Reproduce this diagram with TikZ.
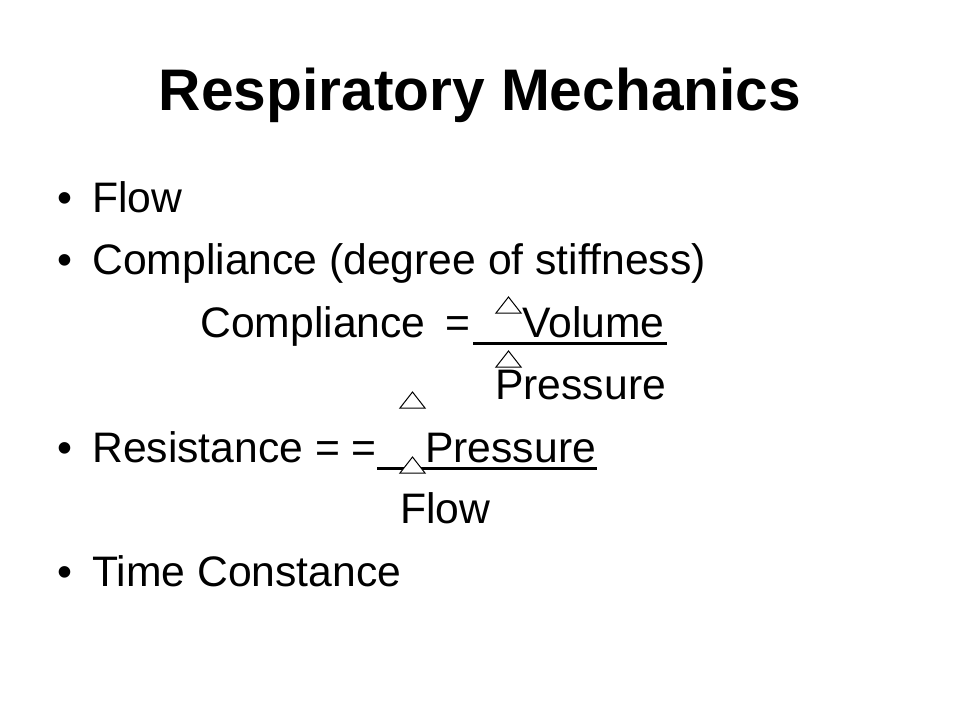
\documentclass[tikz,border=0pt]{standalone}
\usepackage{fontspec}
\setmainfont{Liberation Sans}
\usetikzlibrary{positioning}
\tikzset{
    slidetitle/.style = {anchor=base, inner sep=0pt, font=\fontsize{44}{52}\selectfont\bfseries},
    item/.style = {anchor=base west, inner sep=0pt, font=\fontsize{32}{38}\selectfont},
    delta/.style = {draw=black, fill=white, line width=0.75pt, line join=miter},
    fracline/.style = {line width=2.25pt}
}

\begin{document}
\begin{tikzpicture}[x=0.75pt, y=-0.75pt]
  \useasboundingbox (0,0) rectangle (960,720);
  \fill[white] (0,0) rectangle (960,720);

  \node[slidetitle] (title) at (480,111) {Respiratory Mechanics};

  % bullets
  \node[item] (b1) at (57,213) {•};
  \node[item] (b2) at (57,275) {•};
  \node[item] (b3) at (57,462) {•};
  \node[item] (b4) at (57,586) {•};

  \node[item] (flow) at (92,213) {Flow};
  \node[item] (compl) at (92,275) {Compliance (degree of stiffness)};

  % compliance = dV / dP
  \node[item] (cname) at (200,337) {Compliance};
  \node[item] (ceq) at (445,337) {=};
  \node[item] (vol) at (522,337) {Volume};
  \draw[fracline] (473,343.5) -- (667,343.5);
  \node[item] (cpres) at (495,399) {Pressure};
  \draw[delta] (496,313) -- (508.5,297) -- (521,313) -- cycle;
  \draw[delta] (496,367) -- (508.5,351) -- (521,367) -- cycle;

  % resistance = dP / flow
  \node[item] (resist) at (92,462) {Resistance = =};
  \node[item] (rpres) at (425,462) {Pressure};
  \draw[fracline] (377,468.5) -- (597,468.5);
  \node[item] (rflow) at (400,523) {Flow};
  \draw[delta] (400,408) -- (412.5,392) -- (425,408) -- cycle;
  \draw[delta] (400,473) -- (412.5,457) -- (425,473) -- cycle;

  \node[item] (tconst) at (92,586) {Time Constance};
\end{tikzpicture}
\end{document}
